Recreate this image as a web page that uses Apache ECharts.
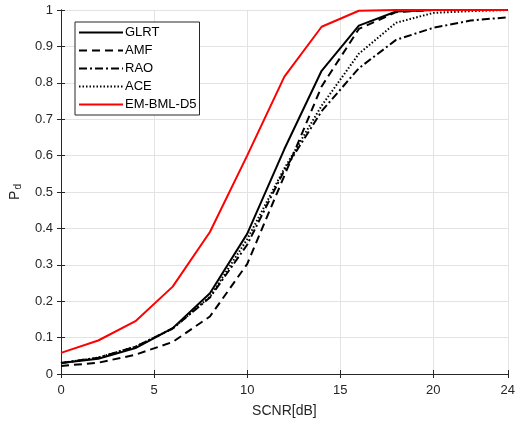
<!DOCTYPE html>
<html>
<head>
<meta charset="utf-8">
<script src="https://cdn.jsdelivr.net/npm/echarts@6/dist/echarts.min.js"></script>
<style>html,body{margin:0;padding:0;background:#fff}#c{width:518px;height:428px}</style>
</head>
<body>
<div id="c"></div>
<script>
const snr = [0, 2, 4, 6, 8, 10, 12, 14, 16, 18, 20, 22, 24];
const glrt = [0.030, 0.042, 0.071, 0.126, 0.222, 0.385, 0.618, 0.833, 0.957, 0.996, 1.0, 1.0, 1.0];
const amf  = [0.022, 0.031, 0.053, 0.088, 0.158, 0.302, 0.545, 0.790, 0.948, 0.994, 1.0, 1.0, 1.0];
const rao  = [0.030, 0.045, 0.075, 0.125, 0.210, 0.355, 0.560, 0.722, 0.840, 0.918, 0.951, 0.971, 0.980];
const ace  = [0.030, 0.045, 0.075, 0.125, 0.212, 0.370, 0.565, 0.737, 0.880, 0.965, 0.992, 0.997, 1.0];
const bml  = [0.058, 0.092, 0.145, 0.240, 0.390, 0.600, 0.817, 0.954, 0.998, 1.0, 1.0, 1.0, 1.0];
const xTicks = [0, 5, 10, 15, 20, 24];

const zip = a => snr.map((x, i) => [x, a[i]]);
const txt = '#262626';
const font = 'Liberation Sans, Arial, sans-serif';

function ser(name, data, color, type) {
  return {
    name, type: 'line', data: zip(data), symbol: 'none', smooth: false,
    lineStyle: { color, width: 2, type },
    itemStyle: { color },
    z: name === 'EM-BML-D5' ? 3 : 2
  };
}

const chart = echarts.init(document.getElementById('c'));
const axisBase = {
  axisLine: { show: true, lineStyle: { color: txt, width: 1 } },
  axisTick: { show: true, inside: true, length: 4, lineStyle: { color: txt } },
};
chart.setOption({
  animation: false,
  backgroundColor: '#fff',
  textStyle: { fontFamily: font },
  grid: { left: 60, right: 7, top: 10, bottom: 54 },
  legend: {
    orient: 'vertical', left: 75, top: 22,
    backgroundColor: '#fff', borderColor: txt, borderWidth: 1,
    padding: [4, 3, 4, 3], itemGap: 5, itemWidth: 44, itemHeight: 12.5,
    itemStyle: { opacity: 0 },
    textStyle: { color: '#000', fontSize: 13, fontFamily: font, padding: [0, 0, 0, -3] },
    data: ['GLRT', 'AMF', 'RAO', 'ACE', 'EM-BML-D5']
  },
  xAxis: [{
    type: 'value', min: 0, max: 24,
    ...axisBase,
    name: 'SCNR[dB]', nameLocation: 'middle', nameGap: 30,
    nameTextStyle: { color: txt, fontSize: 14, fontFamily: font },
    axisLabel: { color: txt, fontSize: 13, margin: 10, customValues: xTicks, fontFamily: font },
    axisTick: { show: true, inside: true, length: 4, customValues: xTicks, lineStyle: { color: txt } },
    splitLine: { show: true, lineStyle: { color: '#e3e3e3', width: 1 } },
    interval: 5
  }, {
    type: 'value', min: 0, max: 24, position: 'top',
    ...axisBase,
    axisLabel: { show: false },
    axisTick: { show: true, inside: true, length: 4, customValues: xTicks, lineStyle: { color: txt } },
    splitLine: { show: false }
  }],
  yAxis: [{
    type: 'value', min: 0, max: 1, interval: 0.1,
    ...axisBase,
    name: '{p|P}{d|d}', nameLocation: 'middle', nameGap: 38, nameRotate: 90,
    nameTextStyle: {
      color: txt, fontFamily: font,
      rich: { p: { fontSize: 14, color: txt, fontFamily: font }, d: { fontSize: 10, color: txt, fontFamily: font, verticalAlign: 'bottom', padding: [6, 0, 0, 1] } }
    },
    axisLabel: { color: txt, fontSize: 13, margin: 8, fontFamily: font, formatter: v => String(Math.round(v * 10) / 10) },
    splitLine: { show: true, lineStyle: { color: '#e3e3e3', width: 1 } }
  }, {
    type: 'value', min: 0, max: 1, interval: 0.1, position: 'right',
    ...axisBase,
    axisLabel: { show: false },
    splitLine: { show: false }
  }],
  series: [
    ser('GLRT', glrt, '#000', 'solid'),
    ser('AMF', amf, '#000', [8, 5]),
    ser('RAO', rao, '#000', [8, 3, 2, 3]),
    ser('ACE', ace, '#000', [1.5, 2]),
    ser('EM-BML-D5', bml, '#ff0000', 'solid')
  ]
});
</script>
</body>
</html>
